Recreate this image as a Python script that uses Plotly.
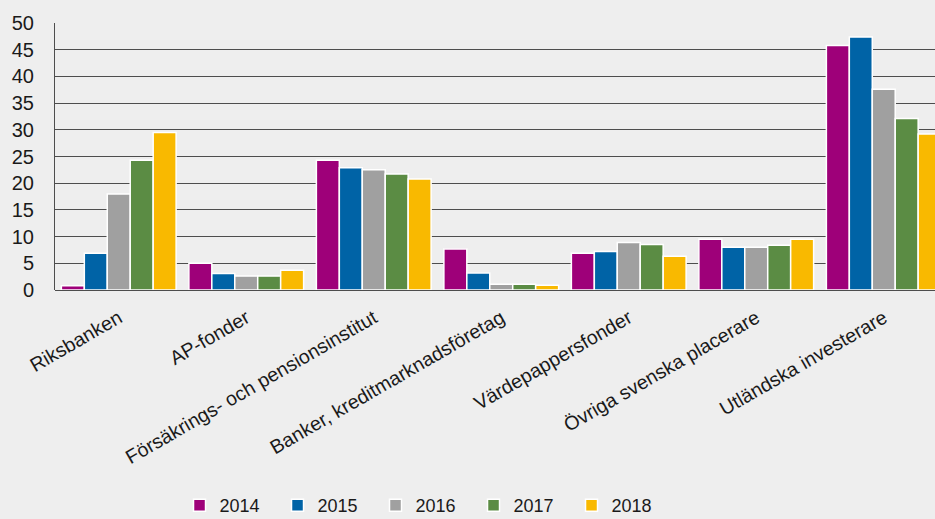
import plotly.graph_objects as go

categories = ["Riksbanken", "AP-fonder", "Försäkrings- och pensionsinstitut",
              "Banker, kreditmarknadsföretag", "Värdepappersfonder",
              "Övriga svenska placerare", "Utländska investerare"]
years = ["2014", "2015", "2016", "2017", "2018"]
v2014 = [0.8, 5.0, 24.3, 7.7, 6.9, 9.5, 45.8]
v2015 = [6.9, 3.1, 22.9, 3.2, 7.2, 8.0, 47.4]
v2016 = [18.0, 2.6, 22.5, 1.1, 8.9, 8.0, 37.6]
v2017 = [24.3, 2.6, 21.7, 1.1, 8.5, 8.4, 32.1]
v2018 = [29.5, 3.7, 20.8, 0.9, 6.3, 9.5, 29.2]
series = [v2014, v2015, v2016, v2017, v2018]
colors = ["#9e0079", "#0063a6", "#a0a0a0", "#5b8c44", "#f9b900"]
yticks = [0, 5, 10, 15, 20, 25, 30, 35, 40, 45, 50]

fig = go.Figure()
for name, vals, col in zip(years, series, colors):
    fig.add_trace(go.Bar(x=categories, y=vals, name=name,
                         marker=dict(color=col, line=dict(color="white", width=1.5))))

fig.update_layout(
    width=935, height=519,
    paper_bgcolor="#eeeeee", plot_bgcolor="#eeeeee",
    margin=dict(l=55, r=0, t=23, b=229, autoexpand=False),
    barmode="group", bargap=0.1, bargroupgap=0,
    font=dict(family="Liberation Sans, Arial, sans-serif", size=18, color="#1a1a1a"),
    showlegend=True,
    legend=dict(orientation="h", x=0.1415, xanchor="left", y=-0.738, yanchor="top",
                entrywidth=53, entrywidthmode="pixels",
                font=dict(size=18), bgcolor="rgba(0,0,0,0)"),
    xaxis=dict(range=[-0.5, 6.402], tickangle=-30, showgrid=False, ticks="",
               tickfont=dict(size=19.6), showline=False, zeroline=False,
               ticklabelstandoff=12, automargin=False),
    yaxis=dict(range=[0, 50], tickvals=yticks, showgrid=True, gridcolor="#4d4d4d",
               gridwidth=1, showline=True, linecolor="#4d4d4d", linewidth=1,
               zeroline=True, zerolinecolor="#4d4d4d", zerolinewidth=1,
               ticks="", ticklabelstandoff=16, tickfont=dict(size=20),
               automargin=False),
)

fig.write_html("out.html", config={"displayModeBar": False},
               post_script="document.body.style.margin='0';")
